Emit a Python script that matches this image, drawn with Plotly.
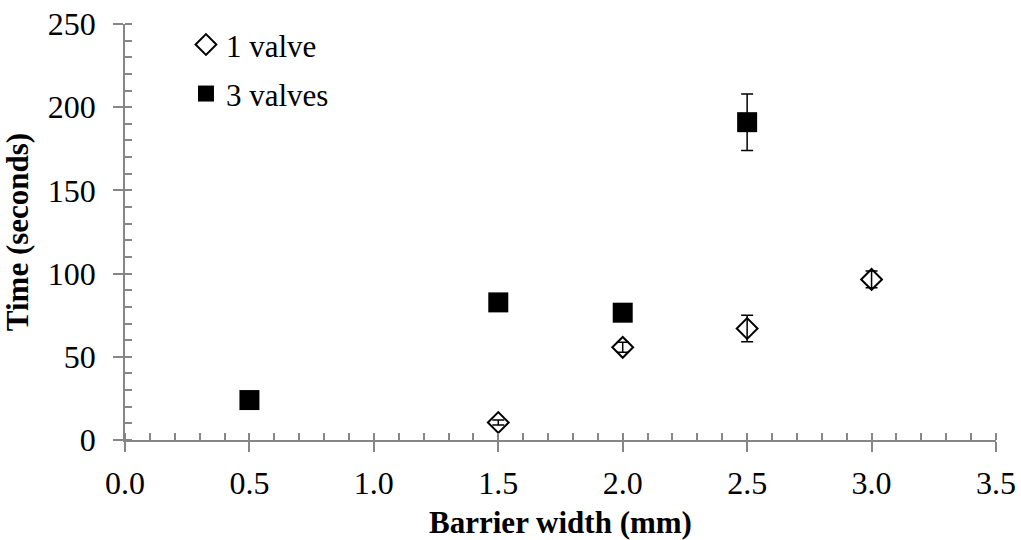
import plotly.graph_objects as go

# Barrier width (mm) and passage time (s) with standard deviations
width_1v = [1.5, 2.0, 2.5, 3.0]
time_1v = [10.5, 55.7, 67.0, 96.5]
err_1v = [1.5, 3.0, 8.0, 5.0]

width_3v = [0.5, 1.5, 2.0, 2.5]
time_3v = [24.0, 82.7, 76.5, 191.0]
err_3v = [1.0, 2.0, 2.0, 17.0]

x_ticks = [0.0, 0.5, 1.0, 1.5, 2.0, 2.5, 3.0, 3.5]
y_ticks = [0, 50, 100, 150, 200, 250]

FONT = "Liberation Serif"
AXIS_GREY = "#868686"

fig = go.Figure()

fig.add_trace(go.Scatter(
    x=width_1v, y=time_1v, mode="markers", name="1 valve",
    marker=dict(symbol="diamond-open", size=16, color="black",
                line=dict(color="black", width=2)),
    error_y=dict(type="data", array=err_1v, visible=True,
                 color="black", thickness=1.5, width=6),
    legend="legend", showlegend=True,
))
fig.add_trace(go.Scatter(
    x=width_3v, y=time_3v, mode="markers", name="3 valves",
    marker=dict(symbol="square", size=20, color="black",
                line=dict(color="black", width=0)),
    error_y=dict(type="data", array=err_3v, visible=True,
                 color="black", thickness=1.5, width=6),
    legend="legend2", showlegend=True,
))

tick_font = dict(family=FONT, size=32, color="black")
title_font = dict(family=FONT, size=31, color="black")
legend_font = dict(family=FONT, size=31, color="black")

fig.update_layout(
    width=1021, height=540,
    margin=dict(l=125, r=25, t=24, b=100),
    paper_bgcolor="white", plot_bgcolor="white",
    font=dict(family=FONT, color="black"),
    showlegend=True,
    xaxis=dict(
        range=[0, 3.5], tickvals=x_ticks, tickformat=".1f", automargin=False,
        ticks="outside", ticklen=10, tickwidth=1.5, tickcolor=AXIS_GREY,
        showline=True, linecolor=AXIS_GREY, linewidth=1.5,
        showgrid=False, zeroline=False,
        tickfont=tick_font, ticklabelstandoff=4,
        minor=dict(dtick=0.1, ticks="inside", ticklen=7, tickwidth=1.5,
                   tickcolor=AXIS_GREY, showgrid=False),
        title=dict(text="<b>Barrier width (mm)</b>", font=title_font, standoff=14),
    ),
    yaxis=dict(
        range=[0, 250], tickvals=y_ticks, automargin=False,
        ticks="outside", ticklen=10, tickwidth=1.5, tickcolor=AXIS_GREY,
        showline=True, linecolor=AXIS_GREY, linewidth=1.5,
        showgrid=False, zeroline=False,
        tickfont=tick_font, ticklabelstandoff=11,
        minor=dict(dtick=10, ticks="inside", ticklen=7, tickwidth=1.5,
                   tickcolor=AXIS_GREY, showgrid=False),
        title=dict(text="<b>Time (seconds)</b>", font=title_font, standoff=12),
    ),
    # inner halves of the major ticks, so they cross the axis lines
    xaxis2=dict(
        overlaying="x", matches="x", anchor="y", range=[0, 3.5], automargin=False,
        tickvals=x_ticks, ticks="inside", ticklen=7, tickwidth=1.5,
        tickcolor=AXIS_GREY, showticklabels=False, showline=False,
        showgrid=False, zeroline=False,
    ),
    yaxis2=dict(
        overlaying="y", matches="y", anchor="x", range=[0, 250], automargin=False,
        tickvals=y_ticks, ticks="inside", ticklen=7, tickwidth=1.5,
        tickcolor=AXIS_GREY, showticklabels=False, showline=False,
        showgrid=False, zeroline=False,
    ),
    legend=dict(x=0.07, y=0.95, xanchor="left", yanchor="middle",
                font=legend_font, bgcolor="rgba(0,0,0,0)", itemwidth=30),
    legend2=dict(x=0.07, y=0.832, xanchor="left", yanchor="middle",
                 font=legend_font, bgcolor="rgba(0,0,0,0)", itemwidth=30),
)

fig.write_html("out.html")
